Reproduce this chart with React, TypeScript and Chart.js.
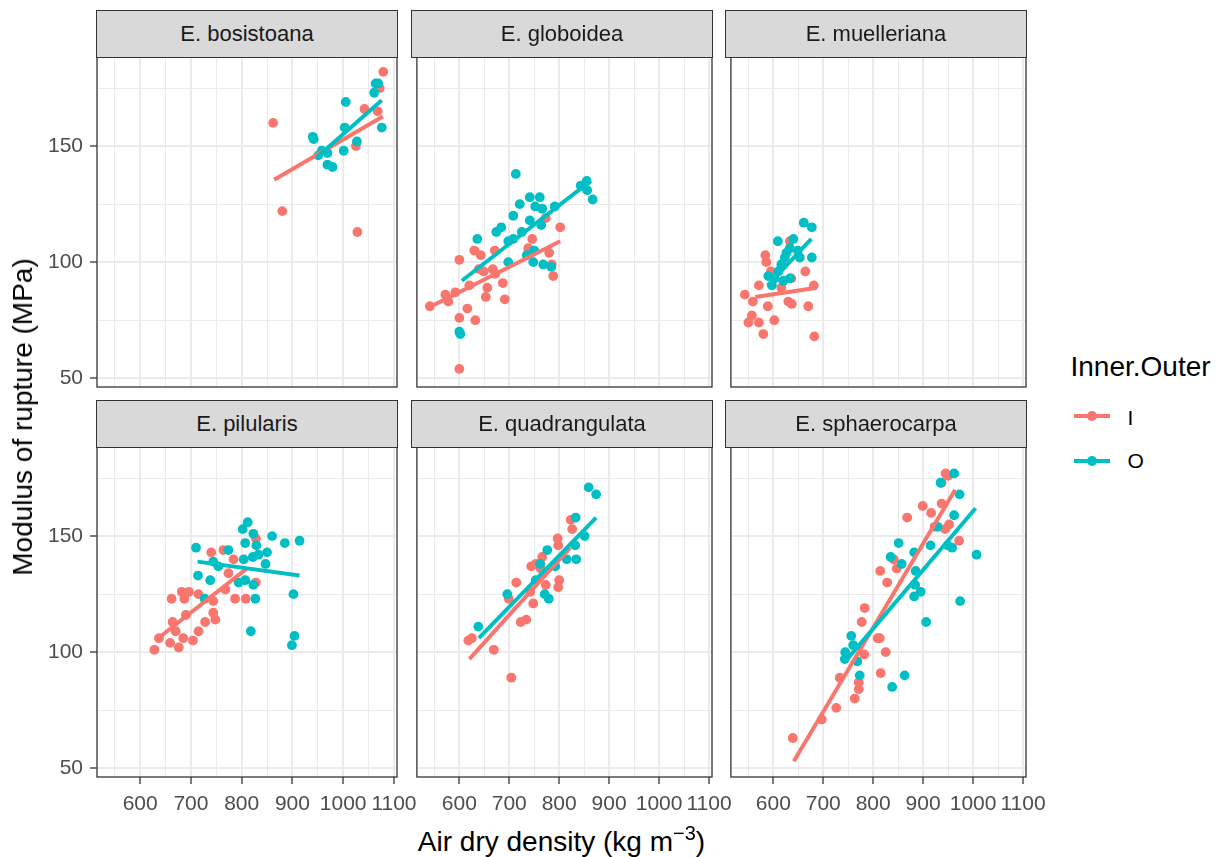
import React, { useEffect, useRef } from "react";
import { Chart, registerables } from "chart.js";

Chart.register(...registerables);

const FONT = "'Liberation Sans', Arial, Helvetica, sans-serif";
const RED = "#F8766D";
const CYAN = "#00BFC4";

// ---- axes ----
const xTicks = [550, 600, 650, 700, 750, 800, 850, 900, 950, 1000, 1050, 1100];
const yTicks = [50, 75, 100, 125, 150, 175];
const xRange = [515, 1106];
const yRange = [46.2, 188.4];

const species = [
  "E. bosistoana",
  "E. globoidea",
  "E. muelleriana",
  "E. pilularis",
  "E. quadrangulata",
  "E. sphaerocarpa",
];

// ---- data: [air dry density, modulus of rupture] ----
const bosistoanaI = [[862, 160], [880, 122], [1028, 113], [1025, 150], [1042, 166], [1068, 165], [1072, 175], [1079, 182]];
const bosistoanaO = [[942, 153], [940, 154], [1005, 169], [1003, 158], [1001, 148], [1027, 152], [951, 146], [958, 148], [969, 147], [969, 142], [979, 141], [1064, 177], [1069, 177], [1061, 173], [1076, 158]];
const bosistoanaFitI = [[864, 135.5], [1078, 162.8]];
const bosistoanaFitO = [[947, 145], [1076, 169.8]];

const globoideaI = [[541, 81], [572, 86], [578, 83], [592, 87], [600, 101], [600, 76], [616, 80], [632, 75], [600, 54], [620, 90], [630, 105], [643, 103], [639, 97], [649, 96], [671, 105], [667, 97], [672, 95], [653, 85], [656, 89], [687, 91], [691, 84], [746, 110], [738, 106], [773, 119], [780, 104], [785, 99], [788, 94], [802, 115]];
const globoideaO = [[600, 70], [602, 69], [636, 110], [674, 113], [684, 115], [698, 100], [698, 109], [708, 110], [713, 138], [708, 120], [721, 125], [725, 113], [741, 128], [741, 118], [750, 105], [748, 100], [752, 124], [761, 128], [766, 123], [764, 116], [768, 99], [784, 98], [791, 124], [843, 133], [855, 135], [856, 131], [867, 127], [735, 103]];
const globoideaFitI = [[544, 81], [802, 109]];
const globoideaFitO = [[605, 92], [863, 135]];

const muellerianaI = [[543, 86], [550, 74], [557, 77], [559, 83], [571, 74], [571, 90], [580, 69], [584, 103], [586, 100], [589, 81], [602, 75], [595, 96], [616, 89], [633, 109], [630, 83], [637, 82], [664, 96], [670, 81], [681, 90], [682, 68], [636, 93]];
const muellerianaO = [[609, 109], [661, 117], [677, 115], [640, 110], [633, 106], [677, 102], [590, 94], [597, 90], [610, 96], [616, 99], [623, 102], [626, 104], [633, 93], [649, 105], [653, 102], [603, 93], [620, 92]];
const muellerianaFitI = [[564, 85], [687, 89]];
const muellerianaFitO = [[589, 90], [676, 110]];

const pilularisI = [[628, 101], [637, 106], [659, 104], [676, 102], [685, 106], [704, 105], [662, 123], [664, 113], [670, 109], [682, 126], [696, 126], [687, 123], [690, 116], [715, 109], [715, 125], [728, 113], [744, 117], [748, 114], [740, 143], [764, 144], [784, 140], [774, 134], [768, 127], [744, 122], [787, 123], [808, 123], [828, 149], [828, 130]];
const pilularisO = [[710, 145], [714, 133], [727, 123], [738, 131], [744, 139], [754, 137], [774, 144], [794, 130], [807, 131], [804, 140], [802, 153], [812, 156], [823, 151], [807, 147], [829, 146], [822, 141], [833, 142], [850, 143], [847, 138], [860, 150], [885, 147], [914, 148], [823, 129], [827, 123], [818, 109], [902, 125], [904, 107], [899, 103]];
const pilularisFitI = [[630, 105], [810, 136]];
const pilularisFitO = [[713, 139], [914, 133]];

const quadrangulataI = [[618, 105], [625, 106], [669, 101], [704, 89], [699, 123], [714, 130], [723, 113], [734, 114], [742, 126], [748, 121], [744, 137], [753, 138], [766, 141], [763, 136], [773, 129], [797, 149], [798, 146], [800, 131], [798, 128], [823, 157], [826, 153]];
const quadrangulataO = [[638, 111], [696, 125], [753, 131], [762, 138], [776, 144], [771, 125], [779, 123], [792, 137], [815, 140], [834, 140], [832, 146], [833, 158], [851, 150], [859, 171], [874, 168]];
const quadrangulataFitI = [[620, 97], [822, 145]];
const quadrangulataFitO = [[639, 106], [874, 158]];

const sphaerocarpaI = [[639, 63], [697, 71], [726, 76], [733, 89], [763, 80], [771, 84], [771, 87], [782, 99], [777, 113], [783, 119], [809, 106], [813, 106], [825, 100], [815, 91], [828, 130], [814, 135], [841, 140], [847, 136], [868, 158], [899, 163], [916, 160], [923, 154], [937, 164], [937, 173], [945, 177], [950, 176], [944, 153], [952, 155], [972, 148]];
const sphaerocarpaO = [[744, 100], [743, 97], [756, 107], [760, 103], [768, 96], [773, 90], [838, 85], [863, 90], [851, 147], [835, 141], [857, 138], [882, 143], [885, 135], [884, 129], [895, 126], [882, 124], [906, 113], [915, 146], [929, 154], [935, 173], [962, 177], [973, 168], [962, 159], [949, 146], [958, 145], [974, 122], [1007, 142]];
const sphaerocarpaFitI = [[641, 53], [964, 170]];
const sphaerocarpaFitO = [[748, 97], [1005, 162]];

const panels = [
  { inner: bosistoanaI, outer: bosistoanaO, fitI: bosistoanaFitI, fitO: bosistoanaFitO },
  { inner: globoideaI, outer: globoideaO, fitI: globoideaFitI, fitO: globoideaFitO },
  { inner: muellerianaI, outer: muellerianaO, fitI: muellerianaFitI, fitO: muellerianaFitO },
  { inner: pilularisI, outer: pilularisO, fitI: pilularisFitI, fitO: pilularisFitO },
  { inner: quadrangulataI, outer: quadrangulataO, fitI: quadrangulataFitI, fitO: quadrangulataFitO },
  { inner: sphaerocarpaI, outer: sphaerocarpaO, fitI: sphaerocarpaFitI, fitO: sphaerocarpaFitO },
];

// ---- layout ----
const COL_LEFT = [97, 412, 726];
const ROW_TOP = [57, 447];
const PW = 300;
const PH = 330;
const STRIP_H = 46;

const panelBorder = {
  id: "panelBorder",
  afterDraw(chart: any) {
    const { ctx, chartArea } = chart;
    ctx.save();
    ctx.strokeStyle = "#333333";
    ctx.lineWidth = 1.3;
    ctx.strokeRect(chartArea.left, chartArea.top, chartArea.width, chartArea.height);
    ctx.restore();
  },
};

function Panel({ idx }: { idx: number }) {
  const ref = useRef<HTMLCanvasElement | null>(null);
  const r = Math.floor(idx / 3);
  const c = idx % 3;
  const axisW = c === 0 ? 97 : 0;
  const axisH = r === 1 ? 45 : 0;
  const padT = 30;
  const padR = 30;
  const padB = r === 0 ? 30 : 2;
  const left = COL_LEFT[c] - axisW;
  const top = ROW_TOP[r] - padT;
  const w = axisW + PW + padR;
  const h = padT + PH + axisH + padB;

  useEffect(() => {
    const p = panels[idx];
    const pts = (a: number[][]) => a.map(([x, y]) => ({ x, y }));
    const showX = r === 1;
    const showY = c === 0;
    const chart = new Chart(ref.current as HTMLCanvasElement, {
      type: "scatter",
      data: {
        datasets: [
          { data: pts(p.fitO), showLine: true, borderColor: CYAN, borderWidth: 4, pointRadius: 0, order: 0 } as any,
          { data: pts(p.fitI), showLine: true, borderColor: RED, borderWidth: 4, pointRadius: 0, order: 1 } as any,
          { data: pts(p.outer), backgroundColor: CYAN, borderWidth: 0, pointRadius: 4.9, pointBorderWidth: 0, order: 2 } as any,
          { data: pts(p.inner), backgroundColor: RED, borderWidth: 0, pointRadius: 4.9, pointBorderWidth: 0, order: 3 } as any,
        ],
      },
      options: {
        animation: false,
        responsive: false,
        maintainAspectRatio: false,
        events: [],
        layout: { padding: { top: padT, right: padR, bottom: padB, left: 0 } },
        plugins: { legend: { display: false }, tooltip: { enabled: false } },
        scales: {
          x: {
            type: "linear",
            min: xRange[0],
            max: xRange[1],
            bounds: "data",
            afterBuildTicks: (s: any) => {
              s.ticks = xTicks.map((v) => ({ value: v }));
            },
            afterFit: (s: any) => {
              s.height = axisH;
            },
            border: { display: false },
            grid: {
              color: "#EBEBEB",
              lineWidth: (ctx: any) => (ctx.tick && ctx.tick.value % 100 === 0 ? 2 : 1),
              drawTicks: showX,
              tickLength: 7,
              tickColor: (ctx: any) => (ctx.tick && ctx.tick.value % 100 === 0 ? "#333333" : "rgba(0,0,0,0)"),
              tickWidth: 1.3,
            },
            ticks: {
              display: showX,
              autoSkip: false,
              maxRotation: 0,
              minRotation: 0,
              padding: 8,
              color: "#4D4D4D",
              font: { family: FONT, size: 21 },
              callback: (v: any) => (Number(v) % 100 === 0 ? String(v) : ""),
            },
          },
          y: {
            type: "linear",
            min: yRange[0],
            max: yRange[1],
            bounds: "data",
            afterBuildTicks: (s: any) => {
              s.ticks = yTicks.map((v) => ({ value: v }));
            },
            afterFit: (s: any) => {
              s.width = axisW;
            },
            border: { display: false },
            grid: {
              color: "#EBEBEB",
              lineWidth: (ctx: any) => (ctx.tick && ctx.tick.value % 50 === 0 ? 2 : 1),
              drawTicks: showY,
              tickLength: 7,
              tickColor: (ctx: any) => (ctx.tick && ctx.tick.value % 50 === 0 ? "#333333" : "rgba(0,0,0,0)"),
              tickWidth: 1.3,
            },
            ticks: {
              display: showY,
              autoSkip: false,
              padding: 7,
              color: "#4D4D4D",
              font: { family: FONT, size: 21 },
              callback: (v: any) => (Number(v) % 50 === 0 ? String(v) : ""),
            },
          },
        },
      } as any,
      plugins: [panelBorder],
    });
    return () => chart.destroy();
  }, [idx]);

  return (
    <canvas
      ref={ref}
      width={w}
      height={h}
      style={{ position: "absolute", left, top, width: w, height: h }}
    />
  );
}

function Strip({ idx }: { idx: number }) {
  const r = Math.floor(idx / 3);
  const c = idx % 3;
  return (
    <div
      style={{
        position: "absolute",
        left: COL_LEFT[c] - 0.6,
        top: ROW_TOP[r] - STRIP_H - 0.6,
        width: PW + 1.2,
        height: STRIP_H + 1.2,
        boxSizing: "border-box",
        border: "1.3px solid #333333",
        background: "#D9D9D9",
        color: "#1A1A1A",
        fontSize: 22,
        lineHeight: `${STRIP_H - 1}px`,
        textAlign: "center",
        fontFamily: FONT,
      }}
    >
      {species[idx]}
    </div>
  );
}

function LegendKey({ color, top }: { color: string; top: number }) {
  return (
    <>
      <div style={{ position: "absolute", left: 1074, top: top - 2, width: 36, height: 4, background: color }} />
      <div
        style={{
          position: "absolute",
          left: 1087,
          top: top - 5,
          width: 10,
          height: 10,
          borderRadius: "50%",
          background: color,
        }}
      />
    </>
  );
}

export default function App() {
  return (
    <div
      style={{
        position: "absolute",
        left: 0,
        top: 0,
        width: 1222,
        height: 857,
        background: "#FFFFFF",
        fontFamily: FONT,
        overflow: "hidden",
      }}
    >
      {panels.map((_, i) => (
        <Panel key={"p" + i} idx={i} />
      ))}
      {panels.map((_, i) => (
        <Strip key={"s" + i} idx={i} />
      ))}

      {/* y axis title */}
      <div
        style={{
          position: "absolute",
          left: 22.5,
          top: 417,
          transform: "translate(-50%, -50%) rotate(-90deg)",
          whiteSpace: "nowrap",
          fontSize: 28,
          lineHeight: "28px",
          color: "#000000",
        }}
      >
        Modulus of rupture (MPa)
      </div>

      {/* x axis title */}
      <div
        style={{
          position: "absolute",
          left: 97,
          width: 929,
          top: 828,
          textAlign: "center",
          whiteSpace: "nowrap",
          fontSize: 28,
          lineHeight: "28px",
          color: "#000000",
        }}
      >
        Air dry density (kg m
        <span style={{ fontSize: 20, position: "relative", top: -11 }}>−3</span>)
      </div>

      {/* legend */}
      <div
        style={{
          position: "absolute",
          left: 1070.5,
          top: 353,
          fontSize: 28,
          lineHeight: "28px",
          whiteSpace: "nowrap",
          color: "#000000",
        }}
      >
        Inner.Outer
      </div>
      <LegendKey color={RED} top={416} />
      <LegendKey color={CYAN} top={460.7} />
      <div style={{ position: "absolute", left: 1127.5, top: 406.7, fontSize: 21, lineHeight: "21px", color: "#000000" }}>I</div>
      <div style={{ position: "absolute", left: 1127.5, top: 450.4, fontSize: 21, lineHeight: "21px", color: "#000000" }}>O</div>
    </div>
  );
}
